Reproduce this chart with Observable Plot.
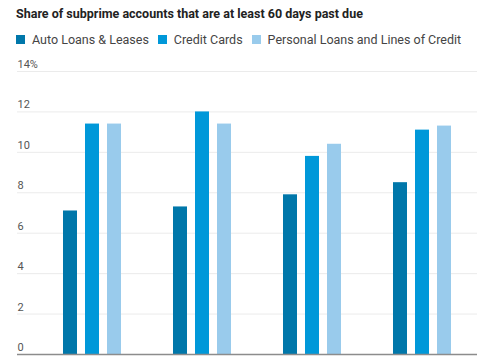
<!DOCTYPE html>
<html>
<head>
<meta charset="utf-8">
<script src="https://cdn.jsdelivr.net/npm/d3@7"></script>
<script src="https://cdn.jsdelivr.net/npm/@observablehq/plot@0.6"></script>
<style>
  html, body { margin: 0; padding: 0; background: #fff; }
  body { width: 485px; height: 360px; overflow: hidden; font-family: Roboto, "Noto Sans", sans-serif; }
  #title { position: absolute; left: 16px; top: 6px; font-size: 12.5px; font-weight: 700; line-height: 16px; color: #222; white-space: nowrap; }
  #legend { position: absolute; left: 16px; top: 31px; height: 16px; display: flex; align-items: center; font-size: 12.5px; color: #444; white-space: nowrap; }
  .item { display: flex; align-items: center; margin-right: 9px; }
  .sw { width: 9px; height: 9px; margin-right: 7px; display: inline-block; }
  #chart { position: absolute; left: 0; top: 50px; }
</style>
</head>
<body>
<div id="title">Share of subprime accounts that are at least 60 days past due</div>
<div id="legend"></div>
<div id="chart"></div>
<script>
const groups = ["Group 1", "Group 2", "Group 3", "Group 4"];
const series = ["Auto Loans & Leases", "Credit Cards", "Personal Loans and Lines of Credit"];
const colors = ["#0077aa", "#0098d9", "#99cbec"];
const autoValues = [7.1, 7.3, 7.9, 8.5];
const creditValues = [11.4, 12.0, 9.8, 11.1];
const personalValues = [11.4, 11.4, 10.4, 11.3];
const yTicks = [0, 2, 4, 6, 8, 10, 12, 14];

const valuesBySeries = [autoValues, creditValues, personalValues];
const data = [];
groups.forEach((g, i) => series.forEach((s, j) => data.push({group: g, series: s, value: valuesBySeries[j][i]})));

const legend = document.getElementById("legend");
series.forEach((s, j) => {
  const it = document.createElement("span");
  it.className = "item";
  const sw = document.createElement("span");
  sw.className = "sw";
  sw.style.background = colors[j];
  it.appendChild(sw);
  it.appendChild(document.createTextNode(s));
  legend.appendChild(it);
});

const gridTicks = yTicks.filter(d => d > 0);
const chart = Plot.plot({
  width: 485,
  height: 310,
  marginTop: 21,
  marginBottom: 6,
  marginLeft: 36,
  marginRight: 8,
  style: {fontFamily: "Roboto, 'Noto Sans', sans-serif", fontSize: "11px", background: "#fff"},
  fx: {domain: groups, axis: null, label: null, paddingInner: 0, paddingOuter: 0},
  x: {domain: series, axis: null, label: null, paddingInner: 0.38, paddingOuter: 1.19},
  y: {domain: [0, 14], axis: null, label: null},
  color: {domain: series, range: colors},
  marks: [
    Plot.ruleY(gridTicks, {y: d => d, stroke: "#ebebeb", strokeWidth: 1}),
    Plot.axisY(gridTicks, {anchor: "left", label: null, tickSize: 20, tickPadding: 0, stroke: "#ebebeb", strokeWidth: 1, tickFormat: () => ""}),
    Plot.barY(data, {fx: "group", x: "series", y: "value", fill: "series"}),
    Plot.ruleY([0], {stroke: "#8c8c8c", strokeWidth: 1.5}),
    Plot.axisY([0], {anchor: "left", label: null, tickSize: 20, tickPadding: 0, stroke: "#8c8c8c", strokeWidth: 1.5, tickFormat: () => ""}),
    Plot.axisY(yTicks, {
      anchor: "left",
      label: null,
      tickSize: 0,
      tickPadding: 0,
      textAnchor: "start",
      dx: -20,
      dy: -7,
      fill: "#555",
      fontSize: 11,
      tickFormat: d => d === 14 ? "14%" : String(d)
    })
  ]
});
document.getElementById("chart").appendChild(chart);
</script>
</body>
</html>
